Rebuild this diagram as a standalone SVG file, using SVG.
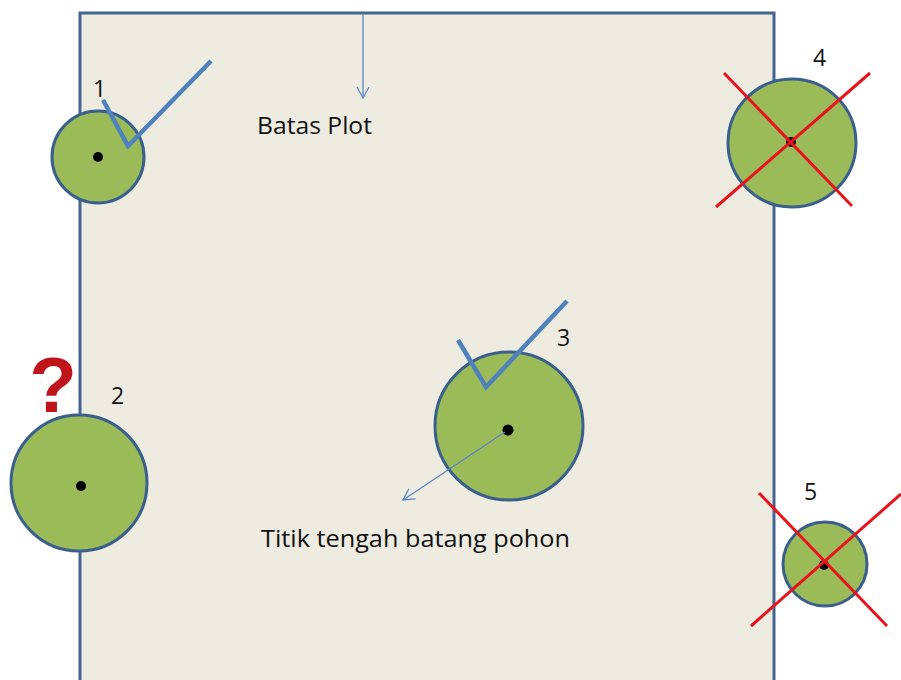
<svg xmlns="http://www.w3.org/2000/svg" width="901" height="680" viewBox="0 0 901 680">
<style>
.tree{fill:#9BBB59;stroke:#3A5F8C;stroke-width:3}
.dot{fill:#000}
.check{fill:none;stroke:#4F81BD;stroke-width:4.5;stroke-linejoin:miter}
.cross{stroke:#E8141B;stroke-width:3}
.lbl{font-family:"Open Sans","Liberation Sans",Arial,sans-serif;font-size:23px;fill:#111}
.conn{stroke:#5B87C0;stroke-width:1.3;fill:none}
</style>
<defs>
<marker id="arr" markerWidth="14" markerHeight="14" refX="12" refY="7" orient="auto" markerUnits="userSpaceOnUse">
<path d="M1,1 L12,7 L1,13" fill="none" stroke="#5B87C0" stroke-width="1.3"/>
</marker>
</defs>
<rect x="0" y="0" width="901" height="680" fill="#FFFFFF"/>
<g id="plot">
<rect x="80" y="13" width="694" height="690" fill="#EEECE1" stroke="#44658F" stroke-width="3"/>
</g>
<g id="label-batas"><text class="lbl" x="257" y="134" textLength="115" lengthAdjust="spacingAndGlyphs">Batas Plot</text></g>
<g id="label-titik"><text class="lbl" x="261" y="547" textLength="309" lengthAdjust="spacingAndGlyphs">Titik tengah batang pohon</text></g>
<g id="tree1">
<circle class="tree" cx="98" cy="157" r="46"/>
<circle class="dot" cx="98" cy="157" r="5"/>
<polyline class="check" points="103,100 128,146 211,61"/>
<text class="lbl" x="93" y="97">1</text>
</g>
<g id="tree2">
<circle class="tree" cx="79" cy="483" r="68"/>
<circle class="dot" cx="81" cy="486" r="5"/>
<text x="53" y="412" text-anchor="middle" font-family="Liberation Sans,Arial,sans-serif" font-weight="bold" font-size="78" fill="#C0141C">?</text>
<text class="lbl" x="111" y="404">2</text>
</g>
<g id="tree3">
<circle class="tree" cx="509" cy="426" r="74"/>
<circle class="dot" cx="508" cy="430" r="5.5"/>
<polyline class="check" points="458,340 486,387 567,301"/>
<text class="lbl" x="557" y="346">3</text>
</g>
<g id="tree4">
<circle class="tree" cx="792" cy="143" r="64"/>
<circle class="dot" cx="791" cy="142" r="5"/>
<line class="cross" x1="724" y1="73" x2="852" y2="206"/>
<line class="cross" x1="870" y1="73" x2="716" y2="207"/>
<text class="lbl" x="813" y="66">4</text>
</g>
<g id="tree5">
<circle class="tree" cx="825" cy="564" r="42"/>
<circle class="dot" cx="824" cy="565" r="5"/>
<line class="cross" x1="759" y1="493" x2="887" y2="626"/>
<line class="cross" x1="901" y1="494" x2="751" y2="626"/>
<text class="lbl" x="804" y="500">5</text>
</g>
<g id="connectors">
<line class="conn" x1="363" y1="13" x2="363" y2="98" marker-end="url(#arr)"/>
<line class="conn" x1="505" y1="432" x2="403" y2="500" marker-end="url(#arr)"/>
</g>
</svg>
